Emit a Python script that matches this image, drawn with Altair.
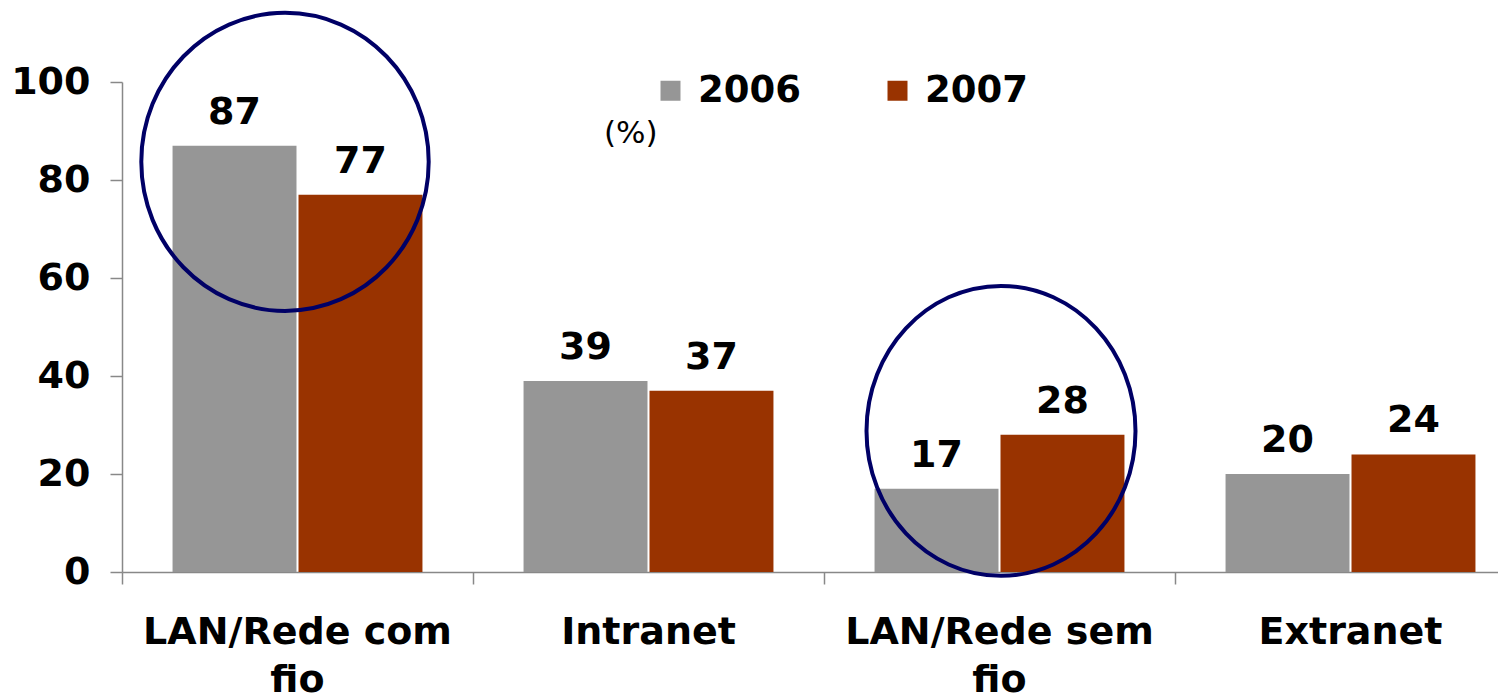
import altair as alt
import pandas as pd

# ---- data ----
categories = ["LAN/Rede com fio", "Intranet", "LAN/Rede sem fio", "Extranet"]
years = ["2006", "2007"]
values_2006 = [87, 39, 17, 20]
values_2007 = [77, 37, 28, 24]
colors = ["#969696", "#993300"]
y_ticks = [0, 20, 40, 60, 80, 100]
unit_label = ["(%)"]

# highlighted groups (ellipse annotations)
highlight_categories = ["LAN/Rede com fio", "LAN/Rede sem fio"]
highlight_centers = [83.7, 28.8]

rows = []
for i, c in enumerate(categories):
    rows.append({"cat": c, "year": years[0], "value": values_2006[i]})
    rows.append({"cat": c, "year": years[1], "value": values_2007[i]})
df = pd.DataFrame(rows)

hl = pd.DataFrame({"cat": highlight_categories, "center": highlight_centers})
unit_df = pd.DataFrame({"t": unit_label})

FONT = "DejaVu Sans"

x_enc = alt.X(
    "cat:N",
    sort=categories,
    scale=alt.Scale(range=[0, 1404], paddingInner=0.288, paddingOuter=0.144),
    axis=alt.Axis(
        title=None,
        labelAngle=0,
        labelFont=FONT,
        labelFontSize=38,
        labelFontWeight="bold",
        labelColor="#000000",
        labelPadding=29,
        labelLineHeight=48,
        labelLimit=1000,
        labelExpr="indexof(datum.label, ' fio') > 0 ? [substring(datum.label, 0, indexof(datum.label, ' fio')), 'fio'] : datum.label",
        bandPosition=-0.202,
        tickSize=12,
        tickColor="#888888",
        domainColor="#888888",
        domainWidth=1.5,
        tickWidth=1.5,
    ),
)
y_enc = alt.Y(
    "value:Q",
    scale=alt.Scale(domain=[0, 100]),
    axis=alt.Axis(
        title=None,
        values=y_ticks,
        grid=False,
        labelFont=FONT,
        labelFontSize=38,
        labelFontWeight="bold",
        labelColor="#000000",
        labelPadding=20,
        tickSize=12,
        tickColor="#888888",
        domainColor="#888888",
        domainWidth=1.5,
        tickWidth=1.5,
    ),
)
xoff = alt.XOffset("year:N", sort=years, scale=alt.Scale(paddingInner=0.016))

bars = alt.Chart(df).mark_bar().encode(
    x=x_enc,
    y=y_enc,
    xOffset=xoff,
    color=alt.Color(
        "year:N",
        sort=years,
        scale=alt.Scale(domain=years, range=colors),
        legend=alt.Legend(
            title=None,
            orient="none",
            legendX=530,
            legendY=-10,
            direction="horizontal",
            symbolType="square",
            symbolSize=400,
            symbolStrokeWidth=0,
            labelFont=FONT,
            labelFontSize=37,
            labelFontWeight="bold",
            labelColor="#000000",
            labelOffset=9,
            columnPadding=78,
        ),
    ),
)

labels = alt.Chart(df).mark_text(
    font=FONT, fontSize=38, fontWeight="bold", color="#000000",
    baseline="alphabetic", dy=-22,
).encode(
    x=alt.X("cat:N", sort=categories),
    y=alt.Y("value:Q"),
    xOffset=alt.XOffset("year:N", sort=years),
    text=alt.Text("value:Q"),
)

ring_style = dict(filled=False, stroke="#000066", strokeWidth=4, opacity=1)
ring1 = alt.Chart(hl.iloc[[0]]).mark_point(
    shape="M -1 0 A 1 1.037 0 1 0 1 0 A 1 1.037 0 1 0 -1 0 Z",
    size=82600, xOffset=-12.5, **ring_style,
).encode(x=alt.X("cat:N", sort=categories), y=alt.Y("center:Q"))
ring2 = alt.Chart(hl.iloc[[1]]).mark_point(
    shape="M -1 0 A 1 1.078 0 1 0 1 0 A 1 1.078 0 1 0 -1 0 Z",
    size=72361, xOffset=1.5, **ring_style,
).encode(x=alt.X("cat:N", sort=categories), y=alt.Y("center:Q"))

unit = alt.Chart(unit_df).mark_text(
    font=FONT, fontSize=31, color="#000000", align="left", baseline="middle",
).encode(x=alt.value(482), y=alt.value(52), text="t:N")

chart = alt.layer(bars, labels, ring1, ring2, unit).properties(
    width=1376,
    height=490,
    padding={"left": 114, "top": 74, "right": 0, "bottom": 124},
    autosize=alt.AutoSizeParams(type="none"),
).configure(background="#ffffff").configure_view(stroke=None)

chart.save("out.html", embed_options={"renderer": "svg", "actions": False})
